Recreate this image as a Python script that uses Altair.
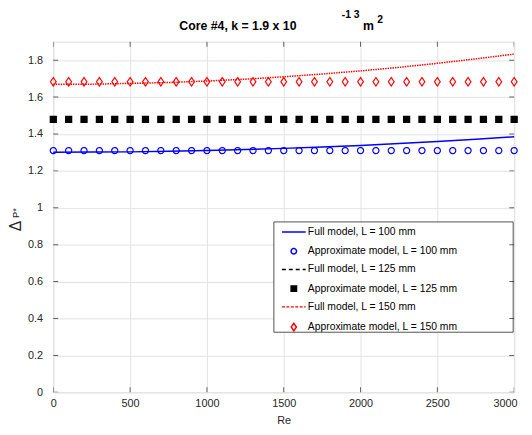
import altair as alt
import pandas as pd

# ---- data ----
re_markers = [0, 100, 200, 300, 400, 500, 600, 700, 800, 900, 1000, 1100, 1200, 1300, 1400, 1500,
              1600, 1700, 1800, 1900, 2000, 2100, 2200, 2300, 2400, 2500, 2600, 2700, 2800, 2900, 3000]
approx_100 = [1.310, 1.310, 1.310, 1.310, 1.310, 1.310, 1.310, 1.310, 1.310, 1.310, 1.310,
              1.310, 1.310, 1.310, 1.310, 1.310, 1.310, 1.310, 1.310, 1.310, 1.310, 1.310,
              1.310, 1.310, 1.310, 1.310, 1.310, 1.310, 1.310, 1.310, 1.310]
approx_125 = [1.479, 1.479, 1.479, 1.479, 1.479, 1.479, 1.479, 1.479, 1.479, 1.479, 1.479,
              1.479, 1.479, 1.479, 1.479, 1.479, 1.479, 1.479, 1.479, 1.479, 1.479, 1.479,
              1.479, 1.479, 1.479, 1.479, 1.479, 1.479, 1.479, 1.479, 1.479]
approx_150 = [1.683, 1.683, 1.683, 1.683, 1.683, 1.683, 1.683, 1.683, 1.683, 1.683, 1.683,
              1.683, 1.683, 1.683, 1.683, 1.683, 1.683, 1.683, 1.683, 1.683, 1.683, 1.683,
              1.683, 1.683, 1.683, 1.683, 1.683, 1.683, 1.683, 1.683, 1.683]

re_line = [0, 250, 500, 750, 1000, 1250, 1500, 1750, 2000, 2250, 2500, 2750, 3000]
full_100 = [1.301, 1.302, 1.303, 1.306, 1.310, 1.316, 1.322, 1.330, 1.338, 1.348, 1.359, 1.371, 1.385]
full_125 = [1.479, 1.479, 1.479, 1.479, 1.479, 1.479, 1.479, 1.479, 1.479, 1.479, 1.479, 1.479, 1.479]
full_150 = [1.669, 1.670, 1.674, 1.679, 1.687, 1.697, 1.710, 1.725, 1.742, 1.761, 1.783, 1.807, 1.833]

series_names = ["Full model, L = 100 mm", "Approximate model, L = 100 mm",
                "Full model, L = 125 mm", "Approximate model, L = 125 mm",
                "Full model, L = 150 mm", "Approximate model, L = 150 mm"]
x_ticks = [0, 500, 1000, 1500, 2000, 2500, 3000]
y_ticks = [0, 0.2, 0.4, 0.6, 0.8, 1.0, 1.2, 1.4, 1.6, 1.8]

# ---- tables ----
pts = pd.concat([
    pd.DataFrame({"Re": re_markers, "dP": approx_100, "series": series_names[1]}),
    pd.DataFrame({"Re": re_markers, "dP": approx_125, "series": series_names[3]}),
    pd.DataFrame({"Re": re_markers, "dP": approx_150, "series": series_names[5]}),
])
l100 = pd.DataFrame({"Re": re_line, "dP": full_100})
l125 = pd.DataFrame({"Re": re_line, "dP": full_125})
l150 = pd.DataFrame({"Re": re_line, "dP": full_150})
xt = pd.DataFrame({"Re": x_ticks})
yt = pd.DataFrame({"dP": y_ticks})
one = pd.DataFrame({"a": [0]})

W, H = 468, 356
FONT = "Liberation Sans"
DARK = "#262626"
GRID = "#e3e3e3"

xscale = alt.Scale(domain=[0, 3000], nice=False, zero=False)
yscale = alt.Scale(domain=[0, 1.9], nice=False, zero=False)
xaxis = alt.Axis(values=x_ticks, format="d", grid=True, gridColor=GRID, ticks=False, domain=False,
                 labelFlush=True, labelFlushOffset=3, labelFontSize=11, labelFont=FONT,
                 labelColor=DARK, labelPadding=5, title="Re", titleFont=FONT, titleFontSize=11,
                 titleFontWeight="normal", titleColor=DARK, titlePadding=7)
yaxis = alt.Axis(values=y_ticks, format="~g", grid=True, gridColor=GRID, ticks=False,
                 domain=False, labelFontSize=11, labelFont=FONT, labelColor=DARK,
                 labelPadding=11, title=None)
X = alt.X("Re:Q", scale=xscale, axis=xaxis)
Y = alt.Y("dP:Q", scale=yscale, axis=yaxis)

line_path = "M-4.4,0L4.4,0"
diamond_path = "M0,-1.4L0.95,0L0,1.4L-0.95,0Z"
shape_range = [line_path, "circle", line_path, "square", line_path, diamond_path]
color_range = ["#0000ff", "#0000ff", "#000000", "#000000", "#ff0000", "#ff0000"]
fill_range = ["transparent", "transparent", "transparent", "#000000", "transparent", "transparent"]
dash_range = [[1, 0], [1, 0], [4, 3], [1, 0], [3, 1.5], [1, 0]]

legend = alt.Legend(orient="none", legendX=227, legendY=184, title=None,
                    labelFont=FONT, labelFontSize=10.5, labelColor="#000000",
                    symbolSize=30, symbolStrokeWidth=1.5, rowPadding=7.5,
                    padding=4, symbolOffset=8, labelOffset=9)

# legend frame
frame = alt.Chart(one).mark_rect(fill="white", stroke=DARK, strokeWidth=0.8).encode(
    x=alt.value(224), x2=alt.value(467), y=alt.value(183), y2=alt.value(295))

line100 = alt.Chart(l100).mark_line(color="#0000ff", strokeWidth=1.5).encode(x=X, y=Y)
line125 = alt.Chart(l125).mark_line(color="#000000", strokeWidth=1.5, strokeDash=[6, 9.6],
                                    strokeDashOffset=3).encode(x=X, y=Y)
line150 = alt.Chart(l150).mark_line(color="#ff0000", strokeWidth=1.5, strokeDash=[1.5, 1]).encode(x=X, y=Y)

points = alt.Chart(pts).mark_point(filled=False, size=38, strokeWidth=1.2, opacity=1).encode(
    x=X, y=Y,
    color=alt.Color("series:N", scale=alt.Scale(domain=series_names, range=color_range), legend=legend),
    shape=alt.Shape("series:N", scale=alt.Scale(domain=series_names, range=shape_range), legend=legend),
    fill=alt.Fill("series:N", scale=alt.Scale(domain=series_names, range=fill_range), legend=legend),
    strokeDash=alt.StrokeDash("series:N", scale=alt.Scale(domain=series_names, range=dash_range), legend=legend),
)

# inward ticks on all four sides
tick_style = dict(color=DARK, size=10, thickness=1, clip=True)
t_top = alt.Chart(xt).mark_tick(orient="vertical", **tick_style).encode(x=X, y=alt.value(0))
t_bot = alt.Chart(xt).mark_tick(orient="vertical", **tick_style).encode(x=X, y=alt.value(H))
t_left = alt.Chart(yt).mark_tick(orient="horizontal", **tick_style).encode(y=Y, x=alt.value(0))
t_right = alt.Chart(yt).mark_tick(orient="horizontal", **tick_style).encode(y=Y, x=alt.value(W))

# title pieces
title_main = alt.Chart(one).mark_text(font=FONT, fontSize=12.5, fontWeight="bold", color="#000000").encode(
    x=alt.value(187.5), y=alt.value(-16), text=alt.value("Core #4, k = 1.9 x 10"))
title_exp = alt.Chart(one).mark_text(font=FONT, fontSize=10.5, fontWeight="bold", color="#000000").encode(
    x=alt.value(302), y=alt.value(-27), text=alt.value("-1 3"))
title_m = alt.Chart(one).mark_text(font=FONT, fontSize=12.5, fontWeight="bold", color="#000000").encode(
    x=alt.value(320), y=alt.value(-16), text=alt.value("m"))
title_2 = alt.Chart(one).mark_text(font=FONT, fontSize=10.5, fontWeight="bold", color="#000000").encode(
    x=alt.value(332), y=alt.value(-22), text=alt.value("2"))

# y axis title: Delta P*
ytitle_d = alt.Chart(one).mark_text(font=FONT, fontSize=16, angle=270, color=DARK).encode(
    x=alt.value(-38), y=alt.value(187), text=alt.value("Δ"))
ytitle_p = alt.Chart(one).mark_text(font=FONT, fontSize=9.5, angle=270, color=DARK).encode(
    x=alt.value(-38), y=alt.value(174), text=alt.value("P*"))

chart = alt.layer(
    frame, line125, line100, line150, points,
    t_top, t_bot, t_left, t_right,
    title_main, title_exp, title_m, title_2, ytitle_d, ytitle_p,
).properties(
    width=W, height=H,
    autosize=alt.AutoSizeParams(type="none"),
    padding={"left": 46, "top": 31, "right": 10, "bottom": 32},
).configure_view(stroke=DARK, strokeWidth=1).configure(background="white")

chart.save("out.html", embed_options={"renderer": "svg", "actions": False})
